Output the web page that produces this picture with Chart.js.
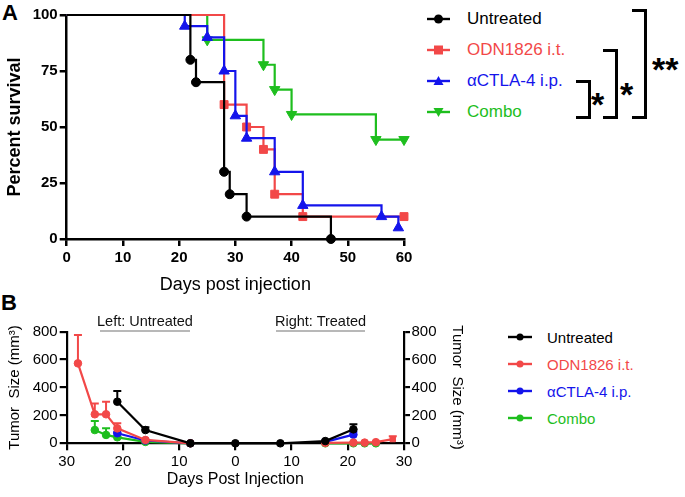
<!DOCTYPE html>
<html>
<head>
<meta charset="utf-8">
<script src="https://cdn.jsdelivr.net/npm/chart.js@4.4.1/dist/chart.umd.min.js"></script>
<style>
  body { margin: 0; width: 685px; height: 497px; background: #fff; position: relative; overflow: hidden;
         font-family: 'Liberation Sans', Arial, sans-serif; }
  canvas { position: absolute; }
  #survival { left: 0; top: 0; }
  #tumor { left: 0; top: 305px; }
  .panel { position: absolute; font-weight: bold; font-size: 22px; line-height: 1; }
  .row { position: absolute; display: flex; align-items: center; white-space: nowrap; height: 24px; }
  .row svg { display: block; }
  .bracket { position: absolute; border: 3px solid #000; border-left: none; box-sizing: border-box; }
  .star { position: absolute; font-weight: bold; font-size: 34px; line-height: 1; }
  .side { position: absolute; font-size: 14.5px; line-height: 1; color: #111; }
  .uline { position: absolute; height: 1.5px; background: #b8b8b8; }
</style>
</head>
<body>
<div class="panel" style="left:2px; top:2px;">A</div>
<div class="panel" style="left:1px; top:292px;">B</div>
<canvas id="survival" width="420" height="300"></canvas>
<canvas id="tumor" width="470" height="192"></canvas>
<div id="legendA"></div>
<div id="legendB"></div>

<div class="bracket" style="left:576px; top:80px; width:15px; height:39px;"></div>
<div class="star" style="left:591px; top:87px;">*</div>
<div class="bracket" style="left:603px; top:49px; width:15px; height:70px;"></div>
<div class="star" style="left:620px; top:77px;">*</div>
<div class="bracket" style="left:632px; top:9px; width:15px; height:110px;"></div>
<div class="star" style="left:652px; top:52px;">**</div>

<div class="side" style="left:97px; top:314px;">Left: Untreated</div>
<div class="uline" style="left:100px; top:330px; width:90px;"></div>
<div class="side" style="left:275px; top:314px;">Right: Treated</div>
<div class="uline" style="left:276px; top:330px; width:89px;"></div>

<script>
// Series names and colours (shared by both panels)
const seriesNames = ['Untreated', 'ODN1826 i.t.', '\u03b1CTLA-4 i.p.', 'Combo'];
const seriesColors = ['#000000', '#f24848', '#1414eb', '#1ebe1e'];
const survivalMarkers = ['circle', 'rect', 'triangle', 'triangleDown'];

// Panel A - survival (days, percent)
const untreatedDays = [0, 22, 23, 28, 29, 32, 47];
const untreatedSurv = [100, 80, 70, 30, 20, 10, 0];
const odnDays = [0, 28, 32, 35, 37, 42, 60];
const odnSurv = [100, 60, 50, 40, 20, 10, 10];
const ctlaDays = [0, 21, 25, 28, 30, 32, 37, 42, 56, 59];
const ctlaSurv = [100, 95, 90, 75, 55, 45, 30, 15, 10, 5];
const comboDays = [0, 25, 35, 37, 40, 55, 60];
const comboSurv = [100, 88.9, 77.8, 66.7, 55.6, 44.4, 44.4];
const survivalTicksX = [0, 10, 20, 30, 40, 50, 60];
const survivalTicksY = [0, 25, 50, 75, 100];

// Panel B - tumour size; negative days = left (untreated) tumour, positive = right (treated)
const tumorDays = [-28, -25, -23, -21, -16, -8, 0, 8, 16, 21, 23, 25, 28];
const untreatedSize = [null, null, null, 298, 95, 0, 0, 0, 16, 100, null, null, null];
const untreatedErr  = [null, null, null, 77, 20, 0, 0, 0, 4, 36, null, null, null];
const odnSize = [573, 208, 208, 107, 24, 0, null, null, 3, 5, 5, 8, 30];
const odnErr  = [203, 78, 90, 36, 4, 0, null, null, 0, 0, 0, 0, 21];
const ctlaSize = [null, null, null, 72, 20, 0, null, null, 10, 62, null, null, null];
const ctlaErr  = [null, null, null, 8, 4, 0, null, null, 0, 20, null, null, null];
const comboSize = [null, 95, 60, 43, 10, 0, null, null, 0, 0, 0, 0, null];
const comboErr  = [null, 65, 47, 6, 2, 0, null, null, 0, 0, 0, 0, null];
const tumorTicksY = [0, 200, 400, 600, 800];

const FONT = "'Liberation Sans', Arial, sans-serif";
Chart.defaults.font.family = FONT;
Chart.defaults.color = '#000';

function pairs(xs, ys) {
  return xs.map((x, i) => ({ x: x, y: ys[i] }));
}

// ---------- Panel A ----------
const survData = [[untreatedDays, untreatedSurv], [odnDays, odnSurv], [ctlaDays, ctlaSurv], [comboDays, comboSurv]];
const markerSize = [4.5, 5.6, 6, 6];

const survivalSets = survData.map((d, i) => {
  const shape = survivalMarkers[i];
  return {
    label: seriesNames[i],
    data: pairs(d[0], d[1]),
    stepped: true,
    borderColor: seriesColors[i],
    backgroundColor: seriesColors[i],
    borderWidth: 2.2,
    pointStyle: shape === 'triangleDown' ? 'triangle' : shape,
    rotation: shape === 'triangleDown' ? 180 : 0,
    pointRadius: ctx => ctx.dataIndex === 0 ? 0 : markerSize[i],
    pointBorderWidth: 1,
    clip: false,
    order: [1, 3, 2, 4][i]
  };
});

new Chart(document.getElementById('survival'), {
  type: 'line',
  data: { datasets: survivalSets },
  options: {
    responsive: false,
    animation: false,
    layout: { padding: { top: 15, right: 16, bottom: 0, left: 0 } },
    plugins: { legend: { display: false }, tooltip: { enabled: false } },
    scales: {
      x: {
        type: 'linear', min: 0, max: 60,
        afterBuildTicks: s => { s.ticks = survivalTicksX.map(v => ({ value: v })); },
        ticks: { color: '#000', font: { size: 15, weight: 'bold' }, padding: 3, maxRotation: 0 },
        grid: { drawOnChartArea: false, tickLength: 7, color: '#000', lineWidth: 2.5 },
        border: { color: '#000', width: 2.5 },
        title: { display: true, text: 'Days post injection', color: '#000',
                 font: { size: 18, lineHeight: 1.2 }, padding: { top: 0, bottom: 4 } },
        afterFit: s => { s.height = 61; }
      },
      y: {
        min: 0, max: 100,
        afterBuildTicks: s => { s.ticks = survivalTicksY.map(v => ({ value: v })); },
        ticks: { color: '#000', font: { size: 15, weight: 'bold' }, padding: 2 },
        grid: { drawOnChartArea: false, tickLength: 7, color: '#000', lineWidth: 2.5 },
        border: { color: '#000', width: 2.5 },
        title: { display: true, text: 'Percent survival', color: '#000',
                 font: { size: 18, weight: 'bold', lineHeight: 1.2 }, padding: { top: 4, bottom: 0 } },
        afterFit: s => { s.width = 66.7; }
      }
    }
  }
});

// ---------- Panel B ----------
const errorBars = {
  id: 'errorBars',
  beforeDatasetsDraw(chart) {
    const ctx = chart.ctx, xs = chart.scales.x, ys = chart.scales.y;
    chart.data.datasets.forEach(ds => {
      ctx.save();
      ctx.strokeStyle = ds.borderColor;
      ctx.lineWidth = 2;
      ds.data.forEach((p, j) => {
        const e = ds.errors[j];
        if (p.y == null || !e) return;
        const px = xs.getPixelForValue(p.x);
        const py = ys.getPixelForValue(p.y);
        const pt = ys.getPixelForValue(p.y + e);
        ctx.beginPath();
        ctx.moveTo(px, py); ctx.lineTo(px, pt);
        ctx.moveTo(px - 4, pt); ctx.lineTo(px + 4, pt);
        ctx.stroke();
      });
      ctx.restore();
    });
  }
};

const sizeData = [[untreatedSize, untreatedErr], [odnSize, odnErr], [ctlaSize, ctlaErr], [comboSize, comboErr]];
const tumorSets = sizeData.map((d, i) => ({
  label: seriesNames[i],
  data: pairs(tumorDays, d[0]),
  errors: d[1],
  borderColor: seriesColors[i],
  backgroundColor: seriesColors[i],
  borderWidth: 2.2,
  pointRadius: 3.8,
  pointBorderWidth: 1,
  pointStyle: ctx => (i === 1 && ctx.dataIndex === tumorDays.length - 1) ? 'rect' : 'circle',
  spanGaps: false,
  clip: false
}));

const sizeAxis = (pos) => ({
  position: pos, min: 0, max: 800,
  afterBuildTicks: s => { s.ticks = tumorTicksY.map(v => ({ value: v })); },
  ticks: { color: '#000', font: { size: 15 }, padding: pos === 'left' ? 2 : 1.5 },
  grid: { drawOnChartArea: false, tickLength: pos === 'left' ? 7 : 6, color: '#000', lineWidth: 2.2 },
  border: { color: '#000', width: 2.2 },
  title: { display: true, text: 'Tumor  Size (mm\u00b3)', color: '#000',
           font: { size: 15, lineHeight: 1.2 }, padding: { top: pos === 'left' ? 6 : 0, bottom: 0 } },
  afterFit: s => { s.width = pos === 'left' ? 66.7 : 62; }
});

new Chart(document.getElementById('tumor'), {
  type: 'line',
  data: { datasets: tumorSets },
  options: {
    responsive: false,
    animation: false,
    layout: { padding: { top: 26.7, right: 4, bottom: 0, left: 0 } },
    plugins: { legend: { display: false }, tooltip: { enabled: false } },
    scales: {
      x: {
        type: 'linear', min: -30, max: 30,
        ticks: { stepSize: 10, color: '#000', font: { size: 15 }, padding: 2.4, maxRotation: 0,
                 callback: v => Math.abs(v) },
        grid: { drawOnChartArea: false, tickLength: 7, color: '#000', lineWidth: 2.2 },
        border: { color: '#000', width: 2.2 },
        title: { display: true, text: 'Days Post Injection', color: '#000',
                 font: { size: 16, lineHeight: 1.2 }, padding: { top: 0, bottom: 8 } },
        afterFit: s => { s.height = 53.7; }
      },
      y: sizeAxis('left'),
      yR: sizeAxis('right')
    }
  },
  plugins: [errorBars]
});

// ---------- legends ----------
function symbol(color, shape, w, r) {
  const c = w / 2, h = 20, m = h / 2;
  let mk = '';
  if (shape === 'circle') mk = `<circle cx="${c}" cy="${m}" r="${r}" fill="${color}"/>`;
  if (shape === 'rect') mk = `<rect x="${c - r}" y="${m - r}" width="${2 * r}" height="${2 * r}" fill="${color}"/>`;
  if (shape === 'triangle') mk = `<polygon points="${c},${m - r} ${c + r},${m + r * 0.8} ${c - r},${m + r * 0.8}" fill="${color}"/>`;
  if (shape === 'triangleDown') mk = `<polygon points="${c},${m + r} ${c + r},${m - r * 0.8} ${c - r},${m - r * 0.8}" fill="${color}"/>`;
  return `<svg width="${w}" height="${h}"><line x1="0" y1="${m}" x2="${w}" y2="${m}" stroke="${color}" stroke-width="2.4"/>${mk}</svg>`;
}

function buildLegend(id, left, top, step, symW, gap, fontSize, shapes, r) {
  const box = document.getElementById(id);
  seriesNames.forEach((name, i) => {
    const row = document.createElement('div');
    row.className = 'row';
    row.style.left = left + 'px';
    row.style.top = (top + i * step - 12) + 'px';
    row.style.fontSize = fontSize + 'px';
    row.style.color = seriesColors[i];
    row.innerHTML = symbol(seriesColors[i], shapes[i], symW, r[i]) +
      `<span style="margin-left:${gap}px">${name}</span>`;
    box.appendChild(row);
  });
}

buildLegend('legendA', 427, 19, 31, 23, 17, 17, survivalMarkers, [4.5, 4.5, 5, 5]);
buildLegend('legendB', 508, 337, 27, 24, 15, 15, ['circle', 'circle', 'circle', 'circle'], [3.5, 3.5, 3.5, 3.5]);
</script>
</body>
</html>
